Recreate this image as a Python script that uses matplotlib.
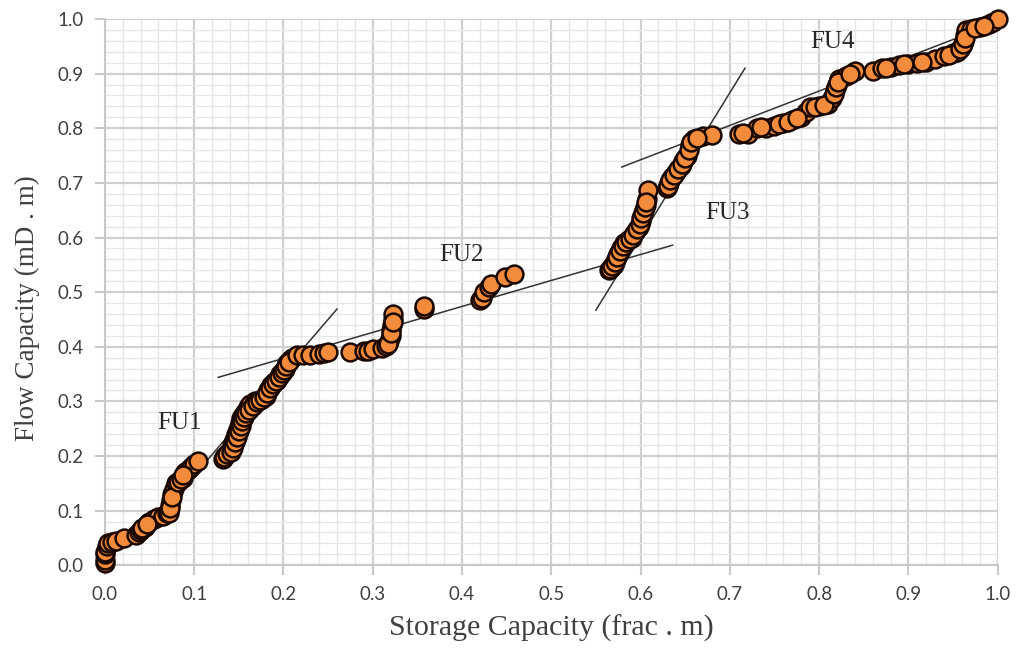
import numpy as np
import matplotlib.pyplot as plt
from matplotlib.ticker import MultipleLocator

# === Data ===
storage = [
    0.0, 0.0, 0.0, 0.0, 0.002, 0.003, 0.008, 0.012, 0.022, 0.035, 0.038, 0.040,
    0.045, 0.050, 0.055, 0.060, 0.065, 0.070, 0.072, 0.073, 0.074, 0.075, 0.077,
    0.080, 0.083, 0.087, 0.090, 0.093, 0.097, 0.100, 0.104,
    0.042, 0.047, 0.072, 0.073, 0.075, 0.082, 0.085, 0.088,
    0.132, 0.135, 0.138, 0.140, 0.142, 0.145, 0.147, 0.149, 0.151, 0.153, 0.155,
    0.157, 0.160, 0.163, 0.168, 0.172, 0.176, 0.180, 0.183, 0.186, 0.190, 0.193,
    0.196, 0.199, 0.202, 0.204, 0.207, 0.210,
    0.133, 0.137, 0.141, 0.143, 0.146, 0.148, 0.150, 0.152, 0.154, 0.156, 0.158,
    0.162, 0.166, 0.170, 0.174, 0.178, 0.182, 0.185, 0.188, 0.192, 0.195, 0.198,
    0.201, 0.203, 0.206,
    0.215, 0.222, 0.230, 0.240, 0.245, 0.250, 0.275, 0.290, 0.295, 0.300, 0.310,
    0.315, 0.318, 0.320, 0.321, 0.322, 0.323, 0.323, 0.317, 0.321, 0.323,
    0.357, 0.358, 0.420, 0.422, 0.425, 0.430, 0.433, 0.448, 0.458,
    0.565, 0.567, 0.570, 0.572, 0.575, 0.578, 0.582, 0.586, 0.590, 0.594, 0.598,
    0.600, 0.602, 0.604, 0.606, 0.607, 0.608, 0.630, 0.632, 0.635, 0.640, 0.645,
    0.648, 0.652, 0.655, 0.660, 0.670, 0.680,
    0.566, 0.568, 0.571, 0.574, 0.577, 0.580, 0.584, 0.588, 0.592, 0.596, 0.599,
    0.601, 0.603, 0.605, 0.606, 0.631, 0.633, 0.638, 0.642, 0.646, 0.650, 0.654,
    0.657, 0.663,
    0.710, 0.720, 0.730, 0.740, 0.750, 0.760, 0.770, 0.780, 0.785, 0.790, 0.800,
    0.810, 0.815, 0.818, 0.820, 0.822, 0.830, 0.840, 0.860, 0.870, 0.880, 0.890,
    0.900, 0.910, 0.920, 0.930, 0.940, 0.950, 0.955, 0.960, 0.962, 0.963, 0.965,
    0.970, 0.980, 0.990, 0.995, 1.000,
    0.715, 0.735, 0.755, 0.765, 0.775, 0.795, 0.805, 0.817, 0.819, 0.821, 0.835,
    0.875, 0.895, 0.915, 0.945, 0.958, 0.961, 0.964, 0.975, 0.985,
]
flow = [
    0.005, 0.010, 0.020, 0.025, 0.035, 0.040, 0.042, 0.045, 0.050, 0.055, 0.060, 0.065,
    0.070, 0.080, 0.085, 0.088, 0.090, 0.095, 0.100, 0.110, 0.120, 0.130, 0.140,
    0.150, 0.155, 0.160, 0.170, 0.175, 0.180, 0.185, 0.190,
    0.068, 0.075, 0.095, 0.105, 0.125, 0.152, 0.158, 0.165,
    0.195, 0.200, 0.205, 0.210, 0.220, 0.230, 0.240, 0.250, 0.260, 0.270, 0.275,
    0.280, 0.290, 0.295, 0.300, 0.300, 0.305, 0.310, 0.320, 0.330, 0.335, 0.340,
    0.350, 0.355, 0.360, 0.370, 0.375, 0.380,
    0.198, 0.203, 0.208, 0.215, 0.225, 0.235, 0.245, 0.255, 0.265, 0.272, 0.278,
    0.285, 0.292, 0.298, 0.302, 0.308, 0.315, 0.325, 0.332, 0.338, 0.345, 0.352,
    0.358, 0.365, 0.372,
    0.385, 0.385, 0.385, 0.386, 0.388, 0.390, 0.390, 0.392, 0.393, 0.395, 0.398,
    0.402, 0.410, 0.420, 0.430, 0.440, 0.450, 0.460, 0.405, 0.425, 0.445,
    0.470, 0.475, 0.485, 0.490, 0.500, 0.510, 0.515, 0.527, 0.533,
    0.540, 0.545, 0.550, 0.560, 0.570, 0.580, 0.590, 0.595, 0.600, 0.610, 0.620,
    0.630, 0.640, 0.650, 0.660, 0.670, 0.687, 0.690, 0.700, 0.710, 0.720, 0.730,
    0.740, 0.750, 0.770, 0.780, 0.785, 0.787,
    0.542, 0.548, 0.555, 0.565, 0.575, 0.585, 0.592, 0.598, 0.605, 0.615, 0.625,
    0.635, 0.645, 0.655, 0.665, 0.695, 0.705, 0.715, 0.725, 0.735, 0.745, 0.760,
    0.775, 0.782,
    0.790, 0.790, 0.800, 0.800, 0.805, 0.810, 0.815, 0.820, 0.830, 0.838, 0.840,
    0.845, 0.855, 0.870, 0.880, 0.890, 0.895, 0.905, 0.905, 0.910, 0.912, 0.915,
    0.918, 0.920, 0.922, 0.927, 0.932, 0.937, 0.940, 0.950, 0.960, 0.970, 0.980,
    0.982, 0.985, 0.990, 0.995, 1.000,
    0.792, 0.802, 0.808, 0.812, 0.818, 0.839, 0.842, 0.862, 0.875, 0.885, 0.900,
    0.911, 0.917, 0.921, 0.935, 0.945, 0.955, 0.965, 0.984, 0.988,
]

# trend lines per flow unit: (x0, x1, y0, y1)
fit_x = [(0.04, 0.26), (0.127, 0.636), (0.55, 0.717), (0.579, 0.97)]
fit_y = [(0.05, 0.469), (0.344, 0.586), (0.467, 0.910), (0.729, 0.975)]

unit_labels = ["FU1", "FU2", "FU3", "FU4"]
label_x = [0.084, 0.40, 0.697, 0.815]
label_y = [0.26, 0.568, 0.645, 0.958]

# === Plot ===
fig = plt.figure(figsize=(10.18, 6.55), dpi=100)
ax = fig.add_axes([0.103, 0.137, 0.877, 0.834])

ax.set_xlim(0, 1)
ax.set_ylim(0, 1)
ax.xaxis.set_major_locator(MultipleLocator(0.1))
ax.yaxis.set_major_locator(MultipleLocator(0.1))
ax.xaxis.set_minor_locator(MultipleLocator(0.02))
ax.yaxis.set_minor_locator(MultipleLocator(0.02))
ax.grid(which='major', color='#d0d0d0', lw=1.6, zorder=0)
ax.grid(which='minor', color='#e6e6e6', lw=1.0, zorder=0)
ax.set_axisbelow(True)

for s in ['top', 'right']:
    ax.spines[s].set_visible(False)
for s in ['left', 'bottom']:
    ax.spines[s].set_color('#c8c8c8')
    ax.spines[s].set_linewidth(1.5)

ax.tick_params(which='major', direction='out', length=7, width=1.5, color='#c8c8c8',
               labelsize=13.5, labelcolor='#404040', pad=8)
ax.tick_params(which='minor', length=0)
ax.xaxis.set_major_formatter(plt.FuncFormatter(lambda v, p: f"{v:.1f}"))
ax.yaxis.set_major_formatter(plt.FuncFormatter(lambda v, p: f"{v:.1f}"))
for lab in ax.get_xticklabels() + ax.get_yticklabels():
    lab.set_family('Lato')

for xs, ys in zip(fit_x, fit_y):
    ax.plot(xs, ys, color='#333333', lw=1.1, zorder=2)

ax.scatter(storage, flow, s=165, facecolor='#f28c3c', edgecolor='#1a0800',
           linewidth=1.8, zorder=3, clip_on=False)

for t, lx, ly in zip(unit_labels, label_x, label_y):
    ax.text(lx, ly, t, fontsize=18, family='Liberation Serif', color='#262626',
            ha='center', va='center', zorder=4)

ax.set_xlabel("Storage Capacity (frac . m)", fontsize=21.5, family='Liberation Serif',
              color='#404040', labelpad=8)
ax.set_ylabel("Flow Capacity (mD . m)", fontsize=19.5, family='Liberation Serif',
              color='#404040', labelpad=8)
ax.yaxis.set_label_coords(-0.073, 0.47)

plt.savefig("out.png", dpi=100)
